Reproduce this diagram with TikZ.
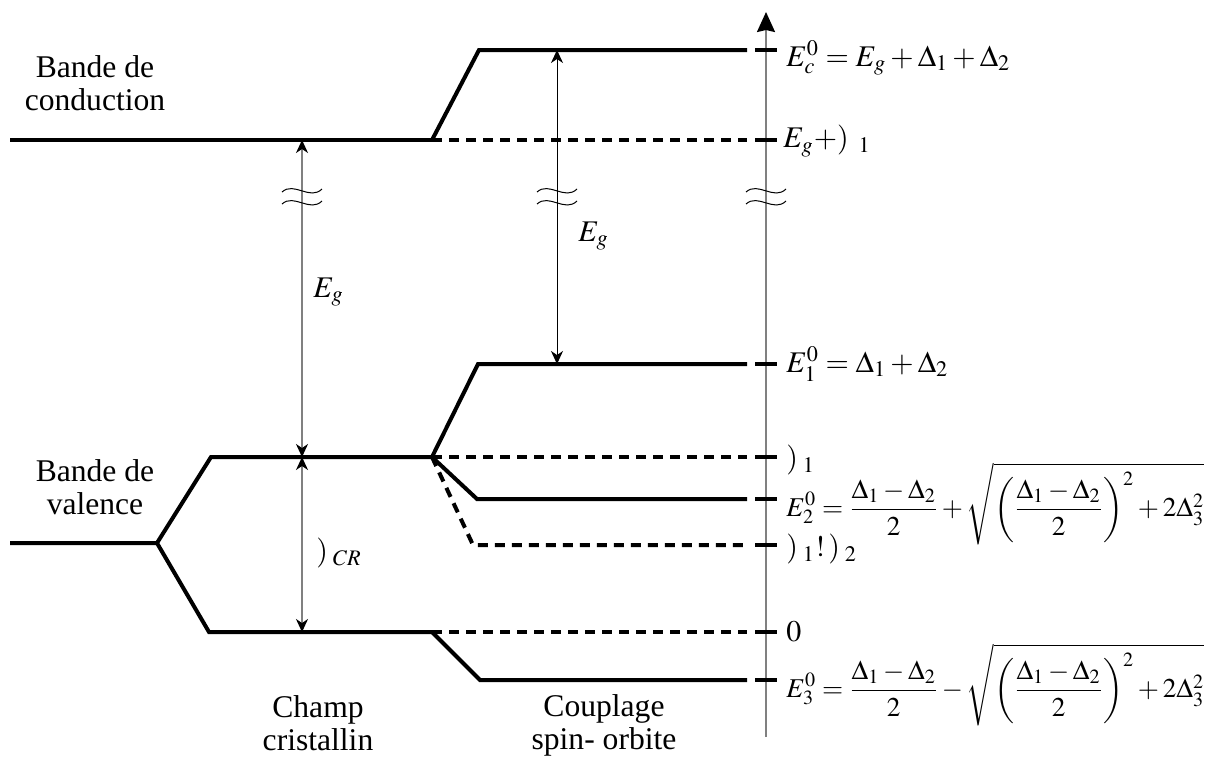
\documentclass[tikz,border=0pt]{standalone}
\usepackage{mathptmx}
\usepackage[no-math]{fontspec}
\setmainfont{Liberation Serif}
\usetikzlibrary{arrows.meta,calc,positioning}
\definecolor{AxisGray}{HTML}{808080}
\tikzset{
  every node/.style={font=\fontsize{15}{16.5}\selectfont, inner sep=0pt},
  caption/.style={align=center, font=\fontsize{15.8}{16.5}\selectfont},
  formula/.style={anchor=west, font=\fontsize{13.6}{15}\selectfont},
  level/.style={draw=black, line width=2pt},
  virtual/.style={draw=black, line width=2pt, dash pattern=on 5pt off 3.5pt},
  tickmark/.style={draw=black, line width=2pt},
  gap/.style={{Stealth[length=6.5pt,width=6pt,inset=2pt,color=black]}-{Stealth[length=6.5pt,width=6pt,inset=2pt,color=black]}, draw=AxisGray, line width=0.75pt},
  gapdark/.style={{Stealth[length=6.5pt,width=6pt,inset=2pt]}-{Stealth[length=6.5pt,width=6pt,inset=2pt]}, draw=black, line width=0.5pt},
  wave/.style={draw=black, line width=0.5pt},
  axis/.style={-{Stealth[length=10pt,width=9pt,inset=1pt,color=black]}, draw=AxisGray, line width=1pt},
}
\begin{document}
\begin{tikzpicture}[x=0.5pt,y=-0.5pt]
  \useasboundingbox (0,0) rectangle (1224,757);
  % energy axis
  \coordinate (axB) at (766,737);
  \coordinate (axT) at (766,12);
  \draw[axis] (axB) -- (axT);
  % conduction band
  \coordinate (cb) at (10,140);
  \coordinate (cbS) at (432,140);
  \coordinate (cbE) at (747,140);
  \coordinate (ec) at (479,50);
  \coordinate (ecE) at (747,50);
  \draw[level] (cb) -- (cbS);
  \draw[virtual] (cbS) -- (cbE);
  \draw[level] (cbS) -- (ec) -- (ecE);
  % valence band, crystal field
  \coordinate (vb) at (10,543);
  \coordinate (vbS) at (157,543);
  \coordinate (hh) at (211,457);
  \coordinate (hhS) at (432,457);
  \coordinate (hhE) at (747,457);
  \coordinate (cf) at (209,632);
  \coordinate (cfS) at (432,632);
  \coordinate (cfE) at (747,632);
  \draw[level] (vb) -- (vbS) -- (hh) -- (hhS);
  \draw[level] (vbS) -- (cf) -- (cfS);
  \draw[virtual] (hhS) -- (hhE);
  \draw[virtual] (cfS) -- (cfE);
  % spin-orbit coupling
  \coordinate (e1) at (478,364);
  \coordinate (e1E) at (747,364);
  \coordinate (e2) at (477,499);
  \coordinate (e2E) at (747,499);
  \coordinate (d12) at (473,545);
  \coordinate (d12E) at (747,545);
  \coordinate (e3) at (480,680);
  \coordinate (e3E) at (747,680);
  \draw[level] (hhS) -- (e1) -- (e1E);
  \draw[level] (hhS) -- (e2) -- (e2E);
  \draw[virtual] (hhS) -- (d12) -- (d12E);
  \draw[level] (cfS) -- (e3) -- (e3E);
  % ticks on the axis
  \foreach \y in {50,140,364,457,499,545,632,680}
    \draw[tickmark] (755,\y) -- (777,\y);
  % gaps
  \coordinate (gT) at (302,140);
  \coordinate (gM) at (302,457);
  \coordinate (gB) at (302,632);
  \coordinate (sT) at (557,50);
  \coordinate (sB) at (557,364);
  \draw[gap] (gT) -- (gM);
  \draw[gap] (gM) -- (gB);
  \draw[gapdark] (sT) -- (sB);
  % break marks
  \foreach \x in {302,557,766}
    \foreach \y in {191,203}
      \draw[wave] (\x-20,\y+1) .. controls (\x-8,\y-10) and (\x+8,\y+10) .. (\x+20,\y-2);
  % labels
  \node (egL) [anchor=west] at (313,292) {$E_g$};
  \node (egM) [anchor=west] at (578,236) {$E_g$};
  \node (dcr) [anchor=west] at (316,553) {$)_{\;CR}$};
  \node (lcb) [caption] at (95,83) {Bande de\\conduction};
  \node (lvb) [caption] at (95,487) {Bande de\\valence};
  \node (lcf) [caption] at (318,723) {Champ\\cristallin};
  \node (lso) [caption] at (604,725) {Couplage\\spin- orbite};
  % level values
  \node (vEc) [anchor=west] at (786,58) {$E_c^0=E_g+\Delta_1+\Delta_2$};
  \node (vEg) [anchor=west] at (783,141) {$E_g{+})_{\;\;1}$};
  \node (vE1) [anchor=west] at (786,364) {$E_1^0=\Delta_1+\Delta_2$};
  \node (vD1) [anchor=west] at (786,460) {$)_{\;1}$};
  \node (vE2) [formula] at (786,504) {$\displaystyle E_2^0=\frac{\Delta_1-\Delta_2}{2}+\sqrt{\left(\frac{\Delta_1-\Delta_2}{2}\right)^2+2\Delta_3^2}$};
  \node (vD12) [anchor=west] at (786,549) {$)_{\;1}!\,)_{\;2}$};
  \node (v0) [anchor=west] at (786,632) {$0$};
  \node (vE3) [formula] at (786,685) {$\displaystyle E_3^0=\frac{\Delta_1-\Delta_2}{2}-\sqrt{\left(\frac{\Delta_1-\Delta_2}{2}\right)^2+2\Delta_3^2}$};
\end{tikzpicture}
\end{document}
